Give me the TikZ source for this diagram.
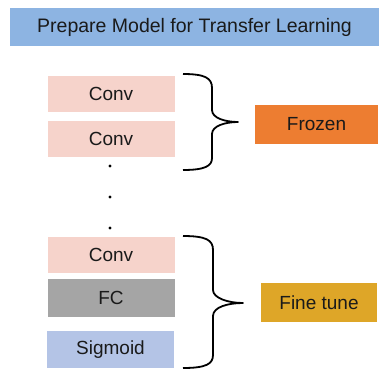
\documentclass[tikz,border=0pt]{standalone}
\usepackage{fontspec}
\setmainfont{Liberation Sans}
\definecolor{titleblue}{HTML}{8DB4E2}
\definecolor{convpink}{HTML}{F6D3CB}
\definecolor{fcgray}{HTML}{A5A5A5}
\definecolor{sigblue}{HTML}{B4C4E6}
\definecolor{frozenorange}{HTML}{ED7D31}
\definecolor{tunegold}{HTML}{DEA628}
\definecolor{inktext}{HTML}{1A1A1A}
\tikzset{
  layerbox/.style={minimum width=127pt, minimum height=36pt, inner sep=0pt,
    font=\fontsize{19}{21}\selectfont, text=inktext},
  tagbox/.style={inner sep=0pt, font=\fontsize{19}{21}\selectfont, text=inktext},
  bracket/.style={line width=1.8pt, black, line join=round},
  dotmark/.style={circle, fill=black, inner sep=0pt, minimum size=3.2pt}
}
\begin{document}
\begin{tikzpicture}[x=1pt, y=-1pt]
  \useasboundingbox (0,0) rectangle (382,369);
  % title bar
  \node[tagbox, fill=titleblue, minimum width=369pt, minimum height=38pt,
        font=\fontsize{19.5}{21}\selectfont] (title) at (194.5,27) {Prepare Model for Transfer Learning};
  % network layers
  \node[layerbox, fill=convpink] (conv1) at (111,94) {Conv};
  \node[layerbox, fill=convpink] (conv2) at (111,139) {Conv};
  \node[dotmark] (d1) at (110,166) {};
  \node[dotmark] (d2) at (110,197) {};
  \node[dotmark] (d3) at (110,228) {};
  \node[layerbox, fill=convpink] (conv3) at (111,255) {Conv};
  \node[layerbox, fill=fcgray, minimum height=38pt] (fc) at (111,298) {FC};
  \node[layerbox, fill=sigblue, minimum height=37pt] (sig) at (110.5,349.5) {Sigmoid};
  % labels for the two groups
  \node[tagbox, fill=frozenorange, minimum width=123pt, minimum height=39pt] (frozen) at (316.5,124) {Frozen};
  \node[tagbox, fill=tunegold, minimum width=116pt, minimum height=39pt] (tune) at (319,302.5) {Fine tune};
  % braces grouping the layers
  \draw[bracket] (183,74) .. controls (205,74) and (212,78) .. (212,88) -- (212,110)
     .. controls (212,118) and (225,122) .. (238,122)
     .. controls (225,122) and (212,126) .. (212,134) -- (212,158)
     .. controls (212,166) and (205,170) .. (183,170);
  \draw[bracket] (183,236) .. controls (206,236) and (213,240) .. (213,250) -- (213,290)
     .. controls (213,298) and (228,303) .. (243,303)
     .. controls (228,303) and (213,307) .. (213,316) -- (213,355)
     .. controls (213,364) and (206,368) .. (183,368);
\end{tikzpicture}
\end{document}
